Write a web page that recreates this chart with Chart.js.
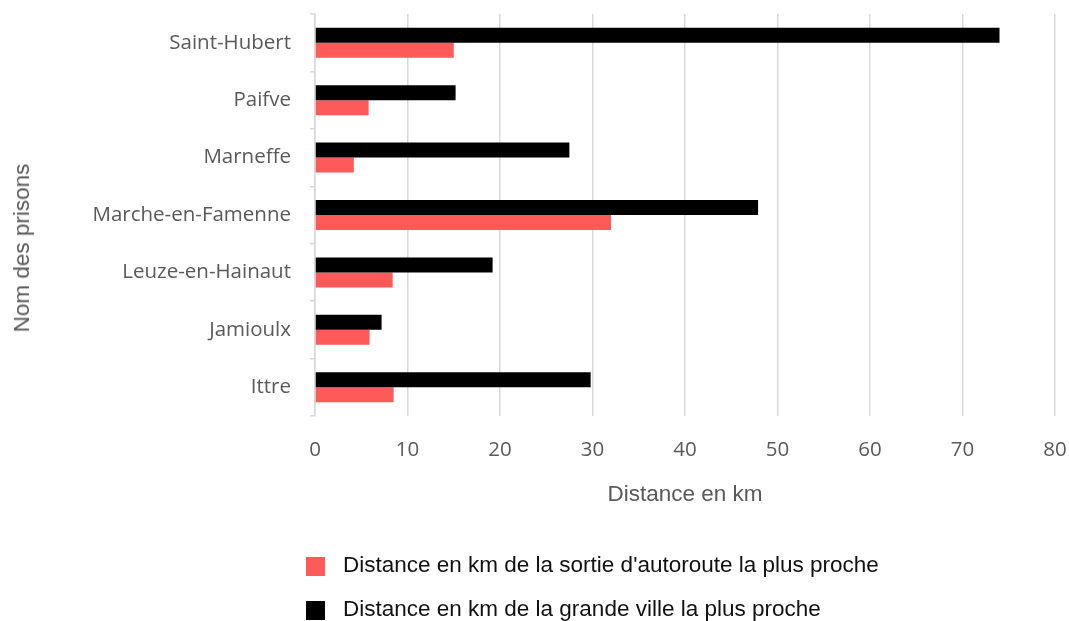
<!DOCTYPE html>
<html lang="fr">
<head>
<meta charset="utf-8">
<title>Distances des prisons</title>
<script src="https://cdn.jsdelivr.net/npm/chart.js@4/dist/chart.umd.min.js"></script>
<style>
  html, body { margin: 0; padding: 0; background: #fff; }
  #wrap { position: relative; width: 1069px; height: 621px; overflow: hidden; }
  #yTitle {
    position: absolute; left: 22px; top: 248px;
    transform: translate(-50%, -50%) rotate(-90deg);
    white-space: nowrap;
    font: 22.5px "Liberation Sans", Arial, sans-serif;
    color: #595959;
  }
  .leg-box { position: absolute; left: 306px; width: 19px; height: 19px; }
  .leg-text {
    position: absolute; left: 343px; white-space: nowrap;
    font: 22.5px/22.5px "Liberation Sans", Arial, sans-serif;
    color: #111;
  }
</style>
</head>
<body>
<div id="wrap">
  <canvas id="prisonChart" width="1069" height="621"></canvas>
  <div id="yTitle">Nom des prisons</div>
  <div id="legend"></div>
</div>

<script>
// data
const prisons = ["Saint-Hubert", "Paifve", "Marneffe", "Marche-en-Famenne", "Leuze-en-Hainaut", "Jamioulx", "Ittre"];
const grandeVille = [74, 15.2, 27.5, 47.9, 19.2, 7.2, 29.8];
const sortieAutoroute = [15, 5.8, 4.2, 32, 8.4, 5.9, 8.5];
const xTicks = [0, 10, 20, 30, 40, 50, 60, 70, 80];

const labelVille = "Distance en km de la grande ville la plus proche";
const labelSortie = "Distance en km de la sortie d'autoroute la plus proche";

const RED = "#ff5a5a";
const BLACK = "#000000";
const GRID = "#d9d9d9";
const TEXT = "#595959";

const ctx = document.getElementById("prisonChart").getContext("2d");

new Chart(ctx, {
  type: "bar",
  data: {
    labels: prisons,
    datasets: [
      {
        label: labelVille,
        data: grandeVille,
        backgroundColor: BLACK,
        categoryPercentage: 0.523,
        barPercentage: 1,
      },
      {
        label: labelSortie,
        data: sortieAutoroute,
        backgroundColor: RED,
        categoryPercentage: 0.523,
        barPercentage: 1,
      },
    ],
  },
  options: {
    indexAxis: "y",
    responsive: false,
    animation: false,
    layout: { padding: { left: 0, top: 14, right: 14, bottom: 105 } },
    plugins: {
      legend: { display: false },
      tooltip: { enabled: false },
    },
    scales: {
      x: {
        type: "linear",
        min: xTicks[0],
        max: xTicks[xTicks.length - 1],
        afterBuildTicks: (scale) => {
          scale.ticks = xTicks.map((v) => ({ value: v }));
        },
        grid: { color: GRID, lineWidth: 1.5, drawTicks: false },
        border: { display: false },
        ticks: {
          padding: 22,
          color: TEXT,
          font: { family: "'Open Sans', sans-serif", size: 20.5 },
        },
        title: {
          display: true,
          text: "Distance en km",
          color: TEXT,
          font: { family: "'Liberation Sans', Arial, sans-serif", size: 22.5 },
          padding: { top: 0, bottom: 8 },
        },
        afterFit: (scale) => {
          scale.height = 100;
          scale.paddingLeft = 0;
          scale.paddingRight = 0;
        },
      },
      y: {
        grid: {
          offset: true,
          drawOnChartArea: false,
          color: GRID,
          lineWidth: 1.5,
          tickLength: 5,
        },
        border: { display: true, color: GRID, width: 1.5 },
        ticks: {
          padding: 19,
          color: TEXT,
          font: { family: "'Open Sans', sans-serif", size: 20.5 },
        },
        afterFit: (scale) => {
          scale.width = 315;
          scale.paddingTop = 0;
          scale.paddingBottom = 0;
        },
      },
    },
  },
});

// legend below the chart, red entry first like the original
const legendItems = [
  { color: RED, text: labelSortie, top: 557 },
  { color: BLACK, text: labelVille, top: 601 },
];
const legendEl = document.getElementById("legend");
legendItems.forEach((item) => {
  const box = document.createElement("div");
  box.className = "leg-box";
  box.style.top = item.top + "px";
  box.style.background = item.color;
  const txt = document.createElement("div");
  txt.className = "leg-text";
  txt.style.top = item.top - 3 + "px";
  txt.textContent = item.text;
  legendEl.appendChild(box);
  legendEl.appendChild(txt);
});
</script>
</body>
</html>
